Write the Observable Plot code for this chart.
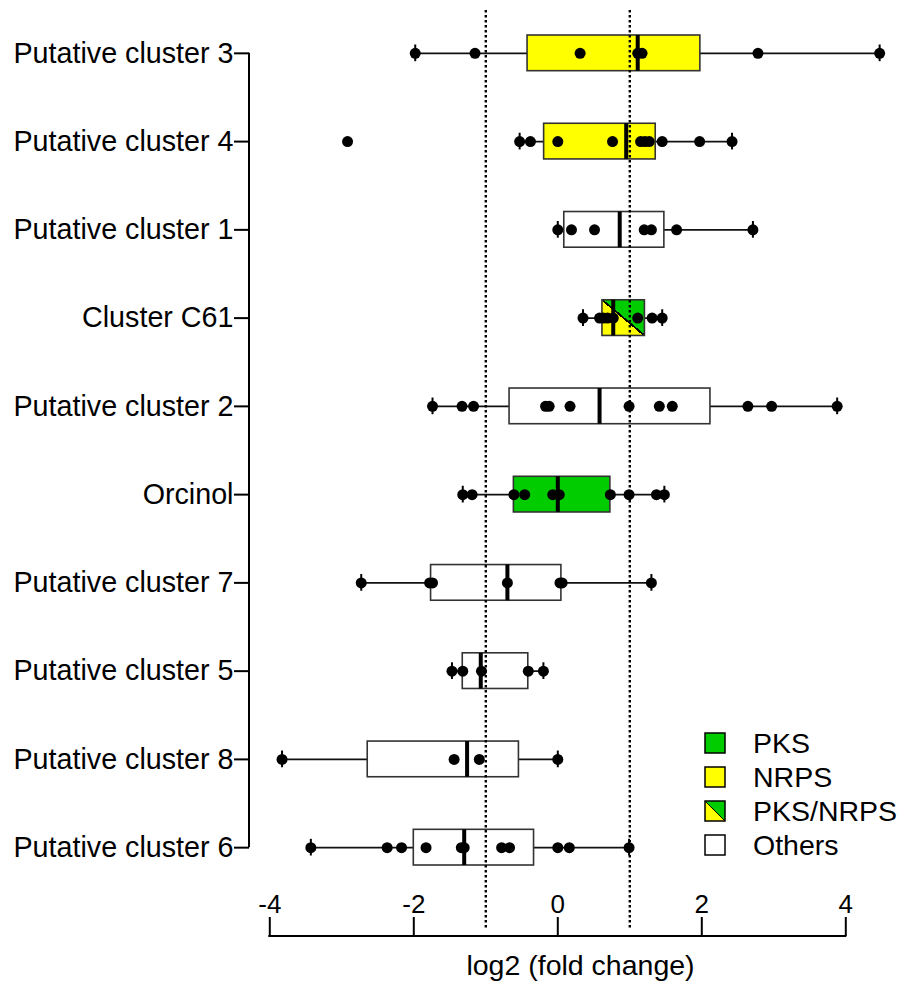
<!DOCTYPE html>
<html>
<head>
<meta charset="utf-8">
<script src="https://cdn.jsdelivr.net/npm/d3@7"></script>
<script src="https://cdn.jsdelivr.net/npm/@observablehq/plot@0.6"></script>
<style>
  html, body { margin: 0; padding: 0; background: #fff; }
  #chart { width: 900px; height: 981px; }
</style>
</head>
<body>
<div id="chart"></div>
<script>
// ---- data ----
const categories = ["Putative cluster 3", "Putative cluster 4", "Putative cluster 1", "Cluster C61",
  "Putative cluster 2", "Orcinol", "Putative cluster 7", "Putative cluster 5", "Putative cluster 8", "Putative cluster 6"];
const types = ["NRPS", "NRPS", "Others", "PKS/NRPS", "Others", "PKS", "Others", "Others", "Others", "Others"];
const whiskerLow  = [-1.98, -0.53, 0.00, 0.35, -1.74, -1.32, -2.73, -1.47, -3.83, -3.43];
const q1          = [-0.42, -0.19, 0.09, 0.62, -0.67, -0.61, -1.76, -1.32, -2.64, -2.00];
const medians     = [1.11, 0.95, 0.86, 0.77, 0.58, 0.00, -0.70, -1.07, -1.26, -1.30];
const q3          = [1.98, 1.36, 1.48, 1.21, 2.12, 0.73, 0.05, -0.41, -0.54, -0.33];
const whiskerHigh = [4.47, 2.42, 2.71, 1.45, 3.88, 1.48, 1.30, -0.20, 0.00, 0.99];

const ptsCluster3 = [-1.98, -1.15, 0.31, 1.11, 1.17, 2.78, 4.47];
const ptsCluster4 = [-2.92, -0.53, -0.38, 0.00, 0.76, 1.15, 1.21, 1.27, 1.45, 1.97, 2.42];
const ptsCluster1 = [0.00, 0.19, 0.51, 1.20, 1.30, 1.65, 2.71];
const ptsC61      = [0.35, 0.58, 0.63, 0.69, 0.77, 1.11, 1.31, 1.45];
const ptsCluster2 = [-1.74, -1.33, -1.17, -0.17, -0.12, 0.17, 0.99, 1.41, 1.59, 2.64, 2.97, 3.88];
const ptsOrcinol  = [-1.32, -1.19, -0.61, -0.46, -0.07, 0.02, 0.73, 0.99, 1.37, 1.48];
const ptsCluster7 = [-2.73, -1.78, -1.74, -0.70, 0.03, 0.06, 1.30];
const ptsCluster5 = [-1.47, -1.32, -1.06, -0.41, -0.20];
const ptsCluster8 = [-3.83, -1.44, -1.09, 0.00];
const ptsCluster6 = [-3.43, -2.37, -2.17, -1.83, -1.34, -1.30, -0.78, -0.67, 0.00, 0.16, 0.99];
const pointSets = [ptsCluster3, ptsCluster4, ptsCluster1, ptsC61, ptsCluster2, ptsOrcinol,
  ptsCluster7, ptsCluster5, ptsCluster8, ptsCluster6];

const xTicks = [-4, -2, 0, 2, 4];
const refLines = [-1, 1];
const xLabel = "log2 (fold change)";
const legendLabels = ["PKS", "NRPS", "PKS/NRPS", "Others"];
const legendFills = ["#00cc00", "#ffff00", "url(#pksNrpsSplit)", "#ffffff"];

// ---- derived tables ----
const boxes = categories.map((name, i) => ({
  name, type: types[i], lo: whiskerLow[i], q1: q1[i], med: medians[i], q3: q3[i], hi: whiskerHigh[i]
}));
const points = pointSets.flatMap((arr, i) => arr.map(v => ({name: categories[i], value: v})));

const FONT = "'Liberation Sans', Arial, Helvetica, sans-serif";

function defsMark() {
  const defs = d3.create("svg:defs");
  const g = defs.append("linearGradient").attr("id", "pksNrpsSplit")
    .attr("x1", 0).attr("y1", 1).attr("x2", 1).attr("y2", 0);
  [[0, "#ffff00"], [0.483, "#ffff00"], [0.483, "#000"], [0.517, "#000"], [0.517, "#00cc00"], [1, "#00cc00"]]
    .forEach(([o, c]) => g.append("stop").attr("offset", o).attr("stop-color", c));
  return defs.node();
}

function axisLines(index, scales, values, dimensions) {
  const {x, y} = scales;
  const bw = y.bandwidth ? y.bandwidth() : 0;
  const g = d3.create("svg:g").attr("stroke", "#000").attr("stroke-width", 2).attr("fill", "none");
  const xl = dimensions.marginLeft;
  g.append("line").attr("x1", xl).attr("x2", xl)
    .attr("y1", y(categories[0]) + bw / 2).attr("y2", y(categories[categories.length - 1]) + bw / 2);
  const ay = dimensions.height - dimensions.marginBottom + 71;
  g.append("line").attr("x1", x(xTicks[0]) - 1).attr("x2", x(xTicks[xTicks.length - 1]) + 1)
    .attr("y1", ay).attr("y2", ay);
  return g.node();
}

function legendMark() {
  const g = d3.create("svg:g");
  legendLabels.forEach((lab, k) => {
    const cy = 743 + k * 34;
    g.append("rect").attr("x", 705).attr("y", cy - 10).attr("width", 20).attr("height", 20)
      .attr("fill", legendFills[k]).attr("stroke", "#000").attr("stroke-width", 1.5);
    g.append("text").attr("x", 753).attr("y", cy).attr("dy", "0.35em")
      .attr("text-anchor", "start")
      .attr("font-size", 28.5).attr("font-family", FONT).attr("fill", "#000").text(lab);
  });
  return g.node();
}

const chart = Plot.plot({
  width: 900,
  height: 981,
  marginLeft: 249,
  marginRight: 55,
  marginTop: 35,
  marginBottom: 116,
  style: {fontFamily: FONT, background: "#fff", color: "#000"},
  x: {domain: [-4, 4], range: [269.3, 845.3], axis: null},
  y: {domain: categories, type: "band", paddingInner: 0.5957, paddingOuter: 0, round: false, axis: null},
  marks: [
    defsMark,
    Plot.ruleY(boxes, {y: "name", x1: "lo", x2: "hi", stroke: "#111", strokeWidth: 1.6}),
    ...legendLabels.map((lab, k) => Plot.barX(boxes.filter(d => d.type === lab), {
      y: "name", x1: "q1", x2: "q3", fill: legendFills[k], stroke: "#333", strokeWidth: 1.6
    })),
    Plot.tickX(boxes, {y: "name", x: "med", stroke: "#000", strokeWidth: 4}),
    Plot.ruleX(refLines, {stroke: "#000", strokeWidth: 2.4, strokeDasharray: "2.5,2.5", insetTop: -25, insetBottom: -63}),
    Plot.tickX(boxes, {y: "name", x: "lo", stroke: "#000", strokeWidth: 2, insetTop: 9.5, insetBottom: 9.5}),
    Plot.tickX(boxes, {y: "name", x: "hi", stroke: "#000", strokeWidth: 2, insetTop: 9.5, insetBottom: 9.5}),
    Plot.dot(points, {x: "value", y: "name", r: 5.5, fill: "#000", stroke: "none"}),
    Plot.axisY({tickSize: 15, tickPadding: 1, fontSize: 28.7, strokeWidth: 2, label: null}),
    axisLines,
    Plot.ruleX(xTicks, {stroke: "#000", strokeWidth: 2, insetTop: 882, insetBottom: -71}),
    Plot.text(xTicks, {x: d => d, text: d => String(d), frameAnchor: "bottom", lineAnchor: "middle", dy: 39, fontSize: 26, fill: "#000"}),
    Plot.text([xLabel], {frameAnchor: "bottom", lineAnchor: "middle", dx: 33, dy: 100, fontSize: 28.5, fill: "#000"}),
    legendMark
  ]
});
document.getElementById("chart").appendChild(chart);
</script>
</body>
</html>
